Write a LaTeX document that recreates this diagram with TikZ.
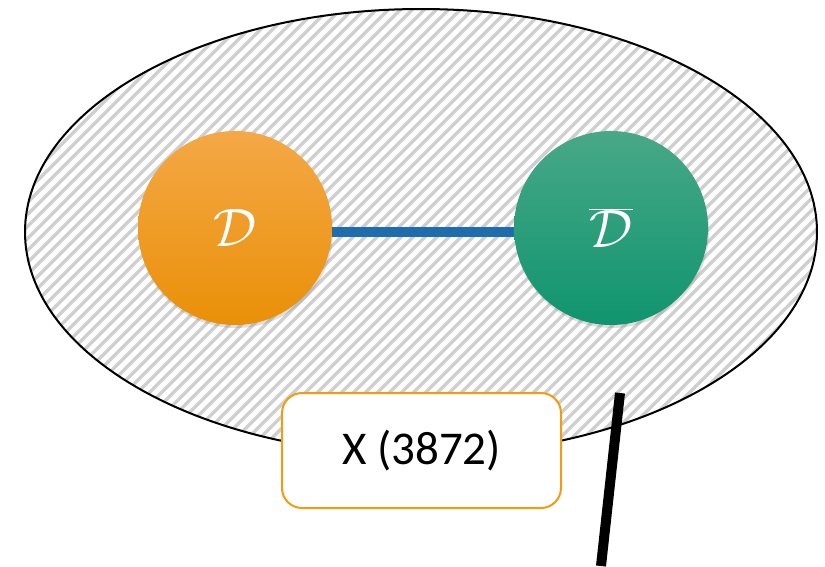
\RequirePackage{fix-cm}
\documentclass[tikz,border=0pt]{standalone}
\usepackage{fontspec}
\setmainfont{Carlito}
\usetikzlibrary{shadows,calc}
\definecolor{hatchgray}{HTML}{CFCFCF}
\definecolor{orTop}{HTML}{F4A846}
\definecolor{orMid}{HTML}{FA9E12}
\definecolor{orBot}{HTML}{EA9008}
\definecolor{grTop}{HTML}{48A887}
\definecolor{grMid}{HTML}{1AA07A}
\definecolor{grBot}{HTML}{10946F}
\definecolor{linkblue}{HTML}{1F6DAE}
\definecolor{boxorange}{HTML}{F39C12}
\tikzset{
  particle/.style={circle, minimum size=194pt, inner sep=0pt, text=white,
    shading=axis, font=\fontsize{54}{58}\selectfont,
    drop shadow={opacity=0.25, shadow xshift=1pt, shadow yshift=-3pt}},
  link/.style={line width=10pt, draw=linkblue},
  labelbox/.style={draw=boxorange, line width=2pt, fill=white, rounded corners=20pt,
    minimum width=279pt, minimum height=115pt, font=\fontsize{47}{50}\selectfont},
  bar/.style={line width=10pt, draw=black}
}
\begin{document}
\begin{tikzpicture}[x=1pt,y=-1pt]
\useasboundingbox (0,0) rectangle (825,566);
\begin{scope}
  \clip (421,232) ellipse [x radius=396, y radius=223];
  \foreach \c in {-600,-588,...,900}
    \draw[hatchgray, line width=3.5pt] (\c,566) -- (\c+566,0);
\end{scope}
\draw[line width=2pt] (421,232) ellipse [x radius=396, y radius=223];
\node[particle, top color=orTop, middle color=orMid, bottom color=orBot] (D) at (235,228) {$\mathcal{D}$};
\node[particle, top color=grTop, middle color=grMid, bottom color=grBot] (Dbar) at (611,228) {$\overline{\mathcal{D}}$};
\draw[link] ($(D.east)+(0,4)$) -- ($(Dbar.west)+(0,4)$);
\node[labelbox] (X) at (421.5,450.5) {X (3872)};
\coordinate (bartop) at (620,393);
\coordinate (barbot) at (601,566);
\draw[bar] (bartop) -- (barbot);
\end{tikzpicture}
\end{document}
